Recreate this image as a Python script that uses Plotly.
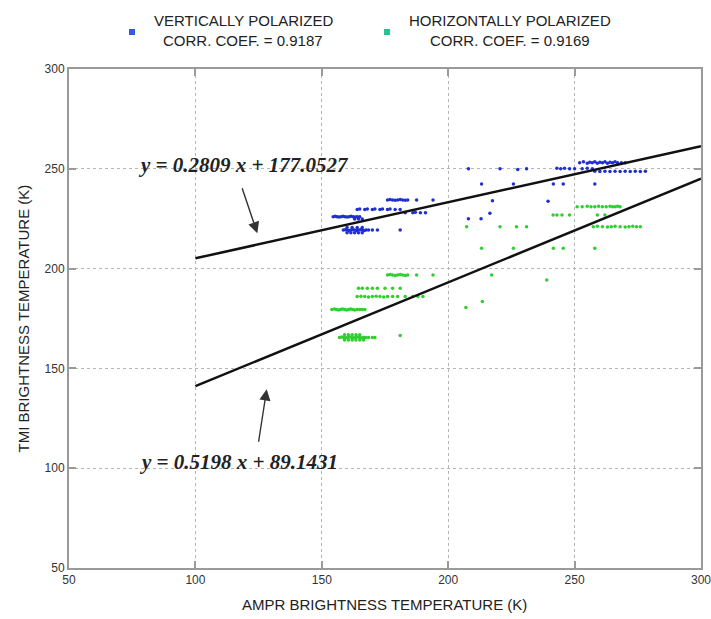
import plotly.graph_objects as go

# AMPR vs TMI brightness temperatures (K), vertically polarized channel
v_ampr = [252, 253.5, 255, 256, 257, 258, 259, 260, 261, 262, 263, 264, 265, 266, 267, 268.5, 270,
          208, 220.5, 227.5, 231, 243, 244.5, 246, 248, 250, 253, 255, 257,
          258, 260, 262, 264, 266, 268, 270, 272, 274, 276, 278,
          213.2, 225.8, 241.6, 245.5, 258,
          176, 177, 178, 179, 180, 181, 182, 183, 184, 187.5, 194, 217.5, 239.5,
          164, 165, 167, 168, 170, 171, 173, 174, 176, 177, 179, 181,
          183, 186, 187, 189, 191,
          154.5, 155.3, 156, 156.8, 157.6, 158.4, 159.2, 160, 160.8, 161.6, 162.4, 163.2, 164, 165,
          163, 164.5, 166,
          158.5, 159.3, 160, 160.8, 161.5, 162.3, 163, 163.8, 164.5, 165.3, 166, 166.8, 167.5, 168.5, 170, 172,
          160, 161.5, 163, 164.5, 166,
          160, 162, 164, 166,
          181, 208, 213, 216.5]
v_tmi = [253, 253.5, 252.8, 253.3, 253, 253.5, 252.8, 253.3, 253, 253.5, 252.8, 253.3, 253, 253.5, 253, 253, 253,
         250, 250, 249.6, 250, 250.3, 250, 250.3, 250, 250, 250, 250.3, 250,
         248.8, 248.6, 248.8, 248.6, 248.8, 248.6, 248.8, 248.6, 248.8, 248.6, 248.8,
         242.4, 242.4, 242.4, 242.4, 242.4,
         234.4, 234.6, 234.4, 234.2, 234.4, 234.6, 234.4, 234.2, 234.4, 234.4, 234.4, 234.0, 233.8,
         229.6, 229.8, 229.6, 229.8, 229.6, 229.8, 229.6, 229.8, 229.6, 229.8, 229.6, 229.6,
         228, 228, 228.2, 228, 228,
         226, 226.2, 226, 225.8, 226, 226.2, 226, 225.8, 226, 226.2, 226, 225.8, 226, 226,
         224.8, 224.8, 224.8,
         219.3, 219.5, 219.3, 219.1, 219.3, 219.5, 219.3, 219.1, 219.3, 219.5, 219.3, 219.1, 219.3, 219.3, 219.3, 219.3,
         218, 218, 218, 218, 218,
         220.6, 220.6, 220.6, 220.6,
         219.3, 225, 225, 227.7]

# horizontally polarized channel
h_ampr = [251, 253, 255, 256.5, 258, 259.5, 261, 262.5, 264, 265, 266, 267, 268,
          241.5, 243, 245, 248, 259, 262,
          207.3, 220.5, 227, 231, 257.4, 259, 261, 263, 264.5, 266, 268, 270, 271.5, 273, 274.5, 276,
          213.2, 225.8, 241.6, 245.5, 258,
          176, 177, 178, 179, 180, 181, 182, 183, 184, 187.5, 194, 217.2, 239,
          164.5, 166, 168, 170, 172, 175, 178, 181,
          164, 165.5, 167, 168.5, 170, 171.5, 173, 174.5, 176, 178, 180, 183, 186, 188, 190,
          154, 155, 155.8, 156.6, 157.4, 158.2, 159, 159.8, 160.6, 161.4, 162.2, 163, 164, 165, 166, 167,
          157, 157.8, 158.6, 159.4, 160.2, 161, 161.8, 162.6, 163.4, 164.2, 165, 165.8, 166.6, 167.4, 168.5, 170, 171,
          159, 160.5, 162, 163.5, 165, 166.5,
          159, 160.5, 162, 163.5, 165,
          181, 207, 213.5]
h_tmi = [231, 231, 231.2, 231, 231, 231.2, 231, 231, 231.2, 231, 231, 231.2, 231,
         226.9, 226.9, 226.9, 226.9, 226.9, 226.9,
         221, 221, 221, 221, 221, 221.2, 221, 220.8, 221, 221.2, 221, 220.8, 221, 221.2, 221, 221,
         210.2, 210.2, 210.2, 210.2, 210.2,
         196.8, 197, 196.8, 196.6, 196.8, 197, 196.8, 196.6, 196.8, 196.8, 196.8, 196.8, 194.3,
         190.1, 190.1, 190.1, 190.1, 190.1, 190.1, 190.1, 190.1,
         186, 186.2, 186, 185.8, 186, 186.2, 186, 185.8, 186, 186, 186, 186, 186, 186, 186,
         179.5, 179.7, 179.5, 179.3, 179.5, 179.7, 179.5, 179.3, 179.5, 179.7, 179.5, 179.3, 179.5, 179.5, 179.5, 179.5,
         165.5, 165.7, 165.5, 165.3, 165.5, 165.7, 165.5, 165.3, 165.5, 165.7, 165.5, 165.3, 165.5, 165.5, 165.5, 165.5, 165.5,
         164.2, 164.2, 164.2, 164.2, 164.2, 164.2,
         166.8, 166.8, 166.8, 166.8, 166.8,
         166.5, 180.5, 183.5]

# least-squares fits
v_fit = (0.2809, 177.0527)
h_fit = (0.5198, 89.1431)
fit_x = [100, 300]

ticks = [50, 100, 150, 200, 250, 300]

fig = go.Figure()

fig.add_trace(go.Scatter(x=v_ampr, y=v_tmi, mode="markers",
                         marker=dict(size=3.5, color="#1f2fd0"), showlegend=False))
fig.add_trace(go.Scatter(x=h_ampr, y=h_tmi, mode="markers",
                         marker=dict(size=3.5, color="#2fcf2f"), showlegend=False))

for slope, icpt in (v_fit, h_fit):
    fig.add_trace(go.Scatter(x=fit_x, y=[slope * x + icpt for x in fit_x], mode="lines",
                             line=dict(color="#111111", width=2.5), showlegend=False))

eq_font = dict(family="Liberation Serif", size=21, color="#222222", weight="bold", style="italic")
fig.add_annotation(x=119.2, y=251.9, xref="x", yref="y", showarrow=False,
                   text=f"y = {v_fit[0]:.4f} x + {v_fit[1]:.4f}", font=eq_font)
fig.add_annotation(x=117.2, y=103.1, xref="x", yref="y", showarrow=False,
                   text=f"y = {h_fit[0]:.4f} x + {h_fit[1]:.4f}", font=eq_font)

# pointers from equations to their fit lines
arrow = dict(showarrow=True, arrowhead=2, arrowsize=1.6, arrowwidth=1.4, arrowcolor="#333333",
             xref="x", yref="y", axref="x", ayref="y", text="")
fig.add_annotation(x=124.5, y=217.7, ax=118.3, ay=241.0, **arrow)
fig.add_annotation(x=128.2, y=139.5, ax=124.9, ay=112.5, **arrow)

# legend block above the axes
leg_font = dict(family="Liberation Sans", size=15, color="#222222")
def px_x(p):
    return (p - 69) / 632
def px_y(p):
    return (568 - p) / 499

for cx, mx, color, l1, l2 in [
    (243, 132, "#2f5be6", "VERTICALLY POLARIZED", "CORR. COEF. = 0.9187"),
    (510, 387, "#26c48a", "HORIZONTALLY POLARIZED", "CORR. COEF. = 0.9169"),
]:
    fig.add_annotation(x=px_x(cx), y=px_y(21), xref="paper", yref="paper", text=l1,
                       showarrow=False, font=leg_font, xanchor="center", yanchor="middle")
    fig.add_annotation(x=px_x(cx), y=px_y(41), xref="paper", yref="paper", text=l2,
                       showarrow=False, font=leg_font, xanchor="center", yanchor="middle")
    fig.add_shape(type="rect", xref="paper", yref="paper",
                  x0=px_x(mx - 3), x1=px_x(mx + 3), y0=px_y(35), y1=px_y(29),
                  fillcolor=color, line=dict(width=0))

title_font = dict(family="Liberation Sans", size=15, color="#222222")
fig.add_annotation(x=px_x(384), y=px_y(604), xref="paper", yref="paper", showarrow=False,
                   text="AMPR BRIGHTNESS TEMPERATURE (K)", font=title_font,
                   xanchor="center", yanchor="middle")
fig.add_annotation(x=px_x(23), y=0.5, xref="paper", yref="paper", showarrow=False, textangle=-90,
                   text="TMI BRIGHTNESS TEMPERATURE (K)", font=title_font,
                   xanchor="center", yanchor="middle")

axis_common = dict(range=[50, 300], tickvals=ticks, ticktext=[str(t) for t in ticks],
                   showgrid=True, gridcolor="#b5b5b5", griddash="dot", gridwidth=1,
                   showline=True, linecolor="#9a9a9a", linewidth=2, mirror="ticks",
                   ticks="inside", ticklen=7, tickcolor="#9a9a9a", tickwidth=1.5,
                   zeroline=False, automargin=False, ticklabeloverflow="allow",
                   tickfont=dict(family="Liberation Sans", size=12, color="#333333"))

fig.update_layout(width=711, height=619, margin=dict(l=69, r=10, t=69, b=51),
                  paper_bgcolor="white", plot_bgcolor="white",
                  xaxis=dict(**axis_common), yaxis=dict(**axis_common))

fig.write_html("out.html")
